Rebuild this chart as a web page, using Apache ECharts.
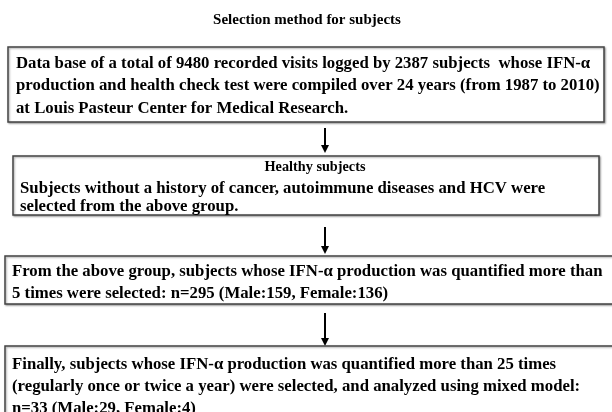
<!DOCTYPE html>
<html>
<head>
<meta charset="utf-8">
<script src="https://cdn.jsdelivr.net/npm/echarts@6/dist/echarts.min.js"></script>
<style>
  html, body { margin: 0; padding: 0; background: #fff; }
  #chart { width: 612px; height: 412px; }
</style>
</head>
<body>
<div id="chart"></div>
<script>
// Flowchart contents
let chartTitle = 'Selection method for subjects';
let box1Lines = [
    'Data base of a total of 9480 recorded visits logged by 2387 subjects  whose IFN-\u03b1',
    'production and health check test were compiled over 24 years (from 1987 to 2010)',
    'at Louis Pasteur Center for Medical Research.'
];
let box2Heading = 'Healthy subjects';
let box2Lines = [
    'Subjects without a history of cancer, autoimmune diseases and HCV were',
    'selected from the above group.'
];
let box3Lines = [
    'From the above group, subjects whose IFN-\u03b1 production was quantified more than',
    '5 times were selected: n=295 (Male:159, Female:136)'
];
let box4Lines = [
    'Finally, subjects whose IFN-\u03b1 production was quantified more than 25 times',
    '(regularly once or twice a year) were selected, and analyzed using mixed model:',
    'n=33 (Male:29, Female:4)'
];

let FONT = '"Liberation Serif", "Times New Roman", serif';
let SX = 0.985; // slight squeeze to match the figure's line lengths

let chart = echarts.init(document.getElementById('chart'));

function box(x, y, w, h) {
    return {
        type: 'rect',
        shape: {x: x, y: y, width: w, height: h},
        style: {fill: '#fff', stroke: '#444', lineWidth: 1.5,
            shadowBlur: 2, shadowColor: 'rgba(0,0,0,0.35)', shadowOffsetX: 1, shadowOffsetY: 1}
    };
}

function lines(arr, x, y, size, lh) {
    return {
        type: 'text',
        x: x, y: y,
        scaleX: SX,
        style: {
            text: arr.join('\n'),
            font: 'bold ' + size + 'px ' + FONT,
            lineHeight: lh,
            fill: '#000',
            verticalAlign: 'top'
        }
    };
}

function arrow(x, y1, y2) {
    return {
        type: 'group',
        children: [{
            type: 'line',
            shape: {x1: x, y1: y1, x2: x, y2: y2 - 6},
            style: {stroke: '#000', lineWidth: 2}
        }, {
            type: 'polygon',
            shape: {points: [[x - 4, y2 - 8], [x + 4, y2 - 8], [x, y2]]},
            style: {fill: '#000'}
        }]
    };
}

let elements = [
    {
        type: 'text', x: 307, y: 20,
        style: {
            text: chartTitle, font: 'bold 15px ' + FONT,
            fill: '#000', align: 'center', verticalAlign: 'middle'
        }
    },
    box(8, 47, 596, 75),
    lines(box1Lines, 16, 52, 17, 22.5),
    arrow(325, 128, 153),
    box(13, 156, 586, 59),
    {
        type: 'text', x: 315, y: 167, scaleX: 0.95,
        style: {
            text: box2Heading, font: 'bold 15px ' + FONT,
            fill: '#000', align: 'center', verticalAlign: 'middle'
        }
    },
    lines(box2Lines, 20, 180, 17, 18),
    arrow(325, 227, 254),
    box(5, 256, 620, 48),
    lines(box3Lines, 12, 261, 17, 22),
    arrow(325, 313, 346),
    box(5, 346, 620, 80),
    lines(box4Lines, 12, 354, 17, 22)
];

chart.setOption({
    animation: false,
    backgroundColor: '#fff',
    graphic: {elements: elements}
});
</script>
</body>
</html>
